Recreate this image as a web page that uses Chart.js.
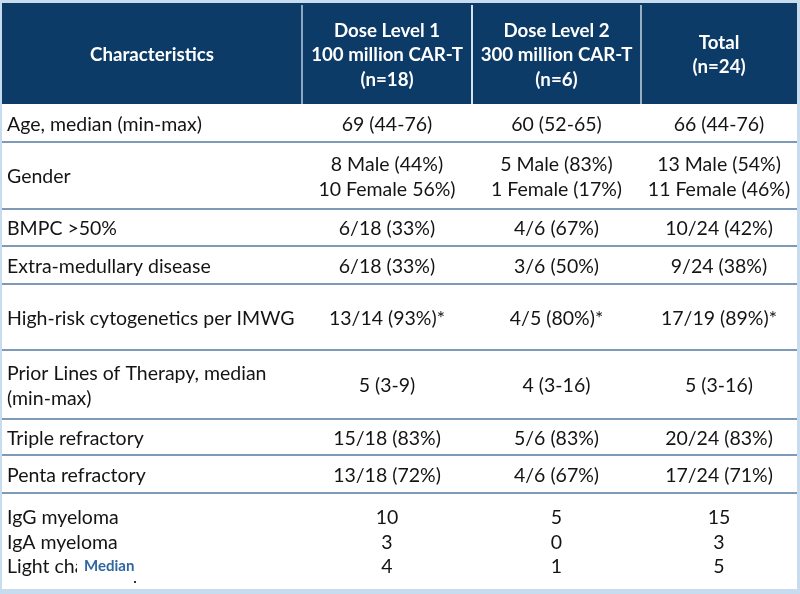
<!DOCTYPE html>
<html>
<head>
<meta charset="utf-8">
<script src="https://cdn.jsdelivr.net/npm/chart.js@4"></script>
<style>
html,body{margin:0;padding:0;background:#c7dcef;}
#wrap{width:800px;height:594px;}
</style>
</head>
<body>
<div id="wrap"><canvas id="c" width="800" height="594"></canvas></div>
<script>
// ---- data ----
const columnHeaders = [
  ['Characteristics'],
  ['Dose Level 1', '100 million CAR-T', '(n=18)'],
  ['Dose Level 2', '300 million CAR-T', '(n=6)'],
  ['Total', '(n=24)']
];
const characteristics = [
  ['Age, median (min-max)'],
  ['Gender'],
  ['BMPC >50%'],
  ['Extra-medullary disease'],
  ['High-risk cytogenetics per IMWG'],
  ['Prior Lines of Therapy, median', '(min-max)'],
  ['Triple refractory'],
  ['Penta refractory'],
  ['IgG myeloma', 'IgA myeloma', 'Light chain']
];
const doseLevel1 = [
  ['69 (44-76)'],
  ['8 Male (44%)', '10 Female 56%)'],
  ['6/18 (33%)'],
  ['6/18 (33%)'],
  ['13/14 (93%)*'],
  ['5 (3-9)'],
  ['15/18 (83%)'],
  ['13/18 (72%)'],
  ['10', '3', '4']
];
const doseLevel2 = [
  ['60 (52-65)'],
  ['5 Male (83%)', '1 Female (17%)'],
  ['4/6 (67%)'],
  ['3/6 (50%)'],
  ['4/5 (80%)*'],
  ['4 (3-16)'],
  ['5/6 (83%)'],
  ['4/6 (67%)'],
  ['5', '0', '1']
];
const totalCol = [
  ['66 (44-76)'],
  ['13 Male (54%)', '11 Female (46%)'],
  ['10/24 (42%)'],
  ['9/24 (38%)'],
  ['17/19 (89%)*'],
  ['5 (3-16)'],
  ['20/24 (83%)'],
  ['17/24 (71%)'],
  ['15', '3', '5']
];
const overlayLabel = 'Median';

// ---- layout (in scale units) ----
const colEdges = [2, 302, 472, 641, 797];
const headerTop = 3, headerBottom = 104;
const rowEdges = [104, 142, 209, 246, 284, 350, 419, 455, 493, 589];
const lineGap = 24.5;

const tablePlugin = {
  id: 'tablePlugin',
  beforeDraw(chart) {
    const ctx = chart.ctx;
    const xs = chart.scales.x, ys = chart.scales.y;
    const X = v => xs.getPixelForValue(v);
    const Y = v => ys.getPixelForValue(v);
    ctx.save();
    ctx.fillStyle = '#c7dcef';
    ctx.fillRect(X(0), Y(0), X(800) - X(0), Y(594) - Y(0));
    // header
    ctx.fillStyle = '#0d3b67';
    ctx.fillRect(X(colEdges[0]), Y(headerTop), X(colEdges[4]) - X(colEdges[0]), Y(headerBottom) - Y(headerTop));
    // body
    ctx.fillStyle = '#ffffff';
    ctx.fillRect(X(colEdges[0]), Y(headerBottom), X(colEdges[4]) - X(colEdges[0]), Y(rowEdges[rowEdges.length - 1]) - Y(headerBottom));
    // header column separators
    const sepColors = ['#8aa7c4', '#d7e2ee', '#9aaec2'];
    for (let i = 1; i < 4; i++) {
      ctx.fillStyle = sepColors[i - 1];
      ctx.fillRect(X(colEdges[i]) - 1, Y(headerTop + 2), 2, Y(headerBottom) - Y(headerTop + 2));
    }
    // row separators
    ctx.fillStyle = '#7d9ab6';
    for (let i = 1; i < rowEdges.length - 1; i++) {
      ctx.fillRect(X(colEdges[0]), Y(rowEdges[i]) - 1, X(colEdges[4]) - X(colEdges[0]), 2);
    }
    // header text
    ctx.textBaseline = 'middle';
    ctx.textAlign = 'center';
    ctx.fillStyle = '#ffffff';
    ctx.font = 'bold 18.7px Lato';
    const hMid = (headerTop + headerBottom) / 2 + 1.5;
    columnHeaders.forEach((lines, c) => {
      const cx = (colEdges[c] + colEdges[c + 1]) / 2;
      const start = hMid - (lines.length - 1) * lineGap / 2;
      lines.forEach((t, k) => ctx.fillText(t, X(cx), Y(start + k * lineGap)));
    });
    // body text
    ctx.fillStyle = '#141414';
    ctx.font = '19.5px Lato';
    const cols = [characteristics, doseLevel1, doseLevel2, totalCol];
    for (let r = 0; r < characteristics.length; r++) {
      const mid = (rowEdges[r] + rowEdges[r + 1]) / 2 + 1.5;
      cols.forEach((col, c) => {
        const lines = col[r];
        const start = mid - (lines.length - 1) * lineGap / 2;
        ctx.textAlign = c === 0 ? 'left' : 'center';
        const x = c === 0 ? colEdges[0] + 5 : (colEdges[c] + colEdges[c + 1]) / 2;
        lines.forEach((t, k) => ctx.fillText(t, X(x), Y(start + k * lineGap)));
      });
    }
    // overlay "Median" label covering part of the last row label
    const lastMid = (rowEdges[8] + rowEdges[9]) / 2 + 1.5;
    const oy = lastMid + lineGap;
    ctx.fillStyle = '#ffffff';
    ctx.fillRect(X(77), Y(oy - 12), X(141) - X(77), Y(oy + 13) - Y(oy - 12));
    ctx.fillStyle = '#2f67a0';
    ctx.font = 'bold 15px Lato';
    ctx.textAlign = 'left';
    ctx.fillText(overlayLabel, X(84), Y(oy - 1));
    ctx.fillStyle = '#333333';
    ctx.fillRect(X(134), Y(oy + 14), 2, 2);
    ctx.restore();
  }
};

new Chart(document.getElementById('c'), {
  type: 'scatter',
  data: { datasets: [{ data: [], showLine: false }] },
  options: {
    responsive: false,
    animation: false,
    events: [],
    layout: { padding: 0 },
    plugins: { legend: { display: false }, tooltip: { enabled: false }, title: { display: false } },
    scales: {
      x: { type: 'linear', min: 0, max: 800, display: false },
      y: { type: 'linear', min: 0, max: 594, reverse: true, display: false }
    }
  },
  plugins: [tablePlugin]
});
</script>
</body>
</html>
